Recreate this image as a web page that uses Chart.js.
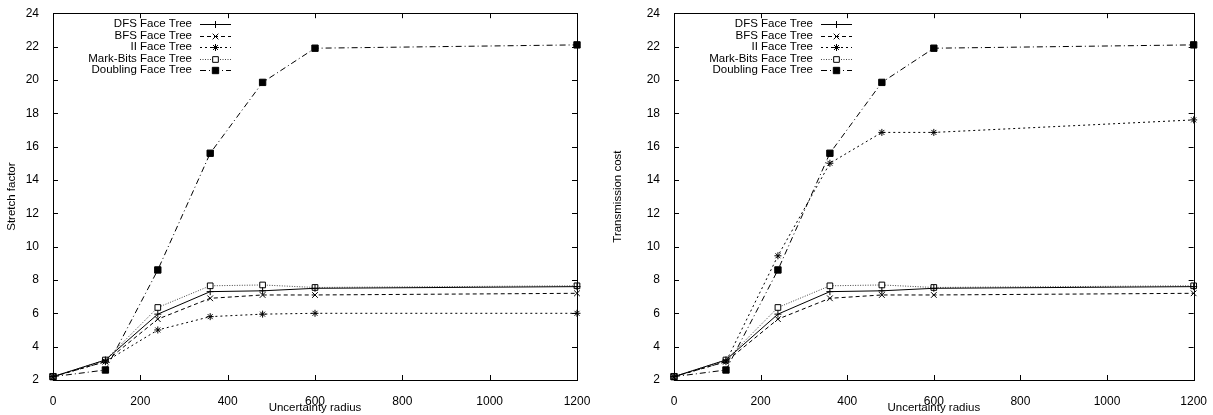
<!DOCTYPE html>
<html>
<head>
<meta charset="utf-8">
<script src="https://cdn.jsdelivr.net/npm/chart.js@4.4.0/dist/chart.umd.min.js"></script>
<style>
  body { margin: 0; background: #fff; }
  .panel { position: absolute; top: 0; }
</style>
</head>
<body>
<div class="panel" style="left:0"><canvas id="stretchChart" width="606" height="415"></canvas></div>
<div class="panel" style="left:606px"><canvas id="costChart" width="607" height="415"></canvas></div>
<script>
// x values (uncertainty radius)
const radius = [0, 120, 240, 360, 480, 600, 1200];

// Stretch factor panel
const dfsStretch = [2.2, 3.2, 5.95, 7.3, 7.35, 7.5, 7.6];
const bfsStretch = [2.2, 3.1, 5.65, 6.9, 7.1, 7.1, 7.2];
const iiStretch = [2.2, 3.1, 5.0, 5.8, 5.95, 6.0, 6.0];
const markStretch = [2.2, 3.2, 6.35, 7.65, 7.7, 7.55, 7.65];
const doublingStretch = [2.2, 2.6, 8.6, 15.6, 19.85, 21.9, 22.1];

// Transmission cost panel (same except II)
const dfsCost = [2.2, 3.2, 5.95, 7.3, 7.35, 7.5, 7.6];
const bfsCost = [2.2, 3.1, 5.65, 6.9, 7.1, 7.1, 7.2];
const iiCost = [2.2, 3.1, 9.45, 15.0, 16.85, 16.85, 17.6];
const markCost = [2.2, 3.2, 6.35, 7.65, 7.7, 7.55, 7.65];
const doublingCost = [2.2, 2.6, 8.6, 15.6, 19.85, 21.9, 22.1];

const seriesNames = ["DFS Face Tree", "BFS Face Tree", "II Face Tree", "Mark-Bits Face Tree", "Doubling Face Tree"];
const yTicks = [2, 4, 6, 8, 10, 12, 14, 16, 18, 20, 22, 24];
const xTicks = [0, 200, 400, 600, 800, 1000, 1200];

const FONT = "'Liberation Sans', Arial, Helvetica, sans-serif";

// line + marker look for each series
const styles = [
  { dash: [], color: "#000", pointStyle: "cross", radius: 3.5, fill: "#000" },
  { dash: [4, 3], color: "#000", pointStyle: "crossRot", radius: 4, fill: "#000" },
  { dash: [2, 3], color: "#000", pointStyle: "star", radius: 3.5, fill: "#000" },
  { dash: [1, 1.5], color: "#444", pointStyle: "rect", radius: 4, fill: "#fff" },
  { dash: [6, 3, 1, 3], color: "#000", pointStyle: "rect", radius: 4.5, fill: "#000" }
];

function toPoints(values) {
  return values.map((v, i) => ({ x: radius[i], y: v }));
}

// gnuplot-like frame, inward ticks and legend
const framePlugin = {
  id: "frame",
  afterDatasetsDraw(chart) {
    const ctx = chart.ctx;
    const a = chart.chartArea;
    const xs = chart.scales.x, ys = chart.scales.y;
    ctx.save();
    ctx.strokeStyle = "#000";
    ctx.lineWidth = 1;
    ctx.setLineDash([]);
    ctx.strokeRect(Math.round(a.left) + 0.5, Math.round(a.top) + 0.5, Math.round(a.right - a.left), Math.round(a.bottom - a.top));

    const tl = 5;
    ctx.beginPath();
    xTicks.forEach(t => {
      const px = Math.round(xs.getPixelForValue(t)) + 0.5;
      ctx.moveTo(px, a.bottom); ctx.lineTo(px, a.bottom - tl);
      ctx.moveTo(px, a.top); ctx.lineTo(px, a.top + tl);
    });
    yTicks.forEach(t => {
      const py = Math.round(ys.getPixelForValue(t)) + 0.5;
      ctx.moveTo(a.left, py); ctx.lineTo(a.left + tl, py);
      ctx.moveTo(a.right, py); ctx.lineTo(a.right - tl, py);
    });
    ctx.stroke();

    // legend
    ctx.font = "11.5px " + FONT;
    ctx.textAlign = "right";
    ctx.textBaseline = "middle";
    chart.data.datasets.forEach((ds, i) => {
      const st = styles[i];
      const y = a.top + 11 + i * 11.5;
      const tx = a.left + 139;
      ctx.fillStyle = "#000";
      ctx.fillText(ds.label, tx, y);
      ctx.strokeStyle = st.color;
      ctx.setLineDash(st.dash);
      ctx.beginPath();
      ctx.moveTo(a.left + 147, Math.round(y) + 0.5);
      ctx.lineTo(a.left + 178, Math.round(y) + 0.5);
      ctx.stroke();
      ctx.setLineDash([]);
      ctx.strokeStyle = "#000";
      ctx.fillStyle = st.fill;
      Chart.helpers.drawPoint(ctx, { pointStyle: st.pointStyle, radius: st.radius, borderWidth: 1, rotation: 0 }, a.left + 162.5, Math.round(y) + 0.5);
    });
    ctx.restore();
  }
};

function makeChart(id, yTitle, series, yWidth, rightPad) {
  const datasets = series.map((vals, i) => ({
    label: seriesNames[i],
    data: toPoints(vals),
    borderColor: styles[i].color,
    borderWidth: 1,
    borderDash: styles[i].dash,
    pointStyle: styles[i].pointStyle,
    pointRadius: styles[i].radius,
    pointBorderColor: "#000",
    pointBackgroundColor: styles[i].fill,
    pointBorderWidth: 1,
    tension: 0,
    clip: false
  }));

  return new Chart(document.getElementById(id), {
    type: "line",
    data: { datasets },
    options: {
      responsive: false,
      animation: false,
      events: [],
      layout: { padding: { top: 13, right: rightPad, left: 0, bottom: 0 } },
      plugins: { legend: { display: false }, tooltip: { enabled: false } },
      scales: {
        x: {
          type: "linear",
          min: 0, max: 1200,
          afterBuildTicks: s => { s.ticks = xTicks.map(v => ({ value: v })); },
          afterFit: s => { s.height = 35; },
          grid: { display: false },
          border: { display: false },
          ticks: { color: "#000", font: { family: FONT, size: 12 }, padding: 6, maxRotation: 0, autoSkip: false, callback: v => String(v) },
          title: { display: true, text: "Uncertainty radius", color: "#000", font: { family: FONT, size: 11.5 }, padding: { top: 0, bottom: 0 } }
        },
        y: {
          type: "linear",
          min: 2, max: 24,
          afterBuildTicks: s => { s.ticks = yTicks.map(v => ({ value: v })); },
          afterFit: s => { s.width = yWidth; },
          grid: { display: false },
          border: { display: false },
          ticks: { color: "#000", font: { family: FONT, size: 12 }, padding: 6, autoSkip: false, callback: v => String(v) },
          title: { display: true, text: yTitle, color: "#000", font: { family: FONT, size: 11.5 }, padding: { top: 5, bottom: 0 } }
        }
      }
    },
    plugins: [framePlugin]
  });
}

makeChart("stretchChart", "Stretch factor",
  [dfsStretch, bfsStretch, iiStretch, markStretch, doublingStretch], 53, 29);
makeChart("costChart", "Transmission cost",
  [dfsCost, bfsCost, iiCost, markCost, doublingCost], 68, 15);
</script>
</body>
</html>
